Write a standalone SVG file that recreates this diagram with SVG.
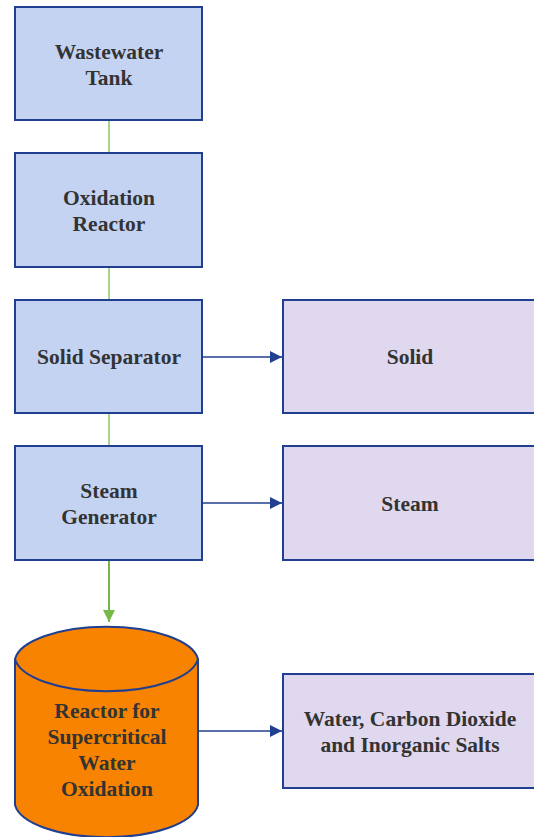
<svg xmlns="http://www.w3.org/2000/svg" width="534" height="837" viewBox="0 0 534 837">
  <style>
    .proc { fill: #c5d3f3; stroke: #203f91; stroke-width: 2; }
    .out { fill: #e0d8ee; stroke: #203f91; stroke-width: 2; }
    .tank { fill: #f88300; stroke: #203f91; stroke-width: 2; }
    .lbl { font-family: "Liberation Serif", "Times New Roman", serif; font-weight: bold; font-size: 21.5px; fill: #333333; text-anchor: middle; }
    .link { stroke: #a9d58a; stroke-width: 2; fill: none; }
    .feed { stroke: #76b948; stroke-width: 2; fill: none; }
    .flow { stroke: #203f91; stroke-width: 1.3; fill: none; }
  </style>
  <defs>
    <marker id="headBlue" viewBox="0 0 10 10" refX="10" refY="5" markerWidth="12" markerHeight="12" markerUnits="userSpaceOnUse" orient="auto">
      <path d="M0,0 L10,5 L0,10 z" fill="#203f91"/>
    </marker>
    <marker id="headGreen" viewBox="0 0 10 10" refX="10" refY="5" markerWidth="12" markerHeight="12" markerUnits="userSpaceOnUse" orient="auto">
      <path d="M0,0 L10,5 L0,10 z" fill="#76b948"/>
    </marker>
  </defs>

  <g id="connectors">
    <line class="link" x1="109" y1="121" x2="109" y2="152"/>
    <line class="link" x1="109" y1="268" x2="109" y2="299"/>
    <line class="link" x1="109" y1="414" x2="109" y2="445"/>
    <line class="feed" x1="109" y1="561" x2="109" y2="622" marker-end="url(#headGreen)"/>
    <line class="flow" x1="202" y1="357" x2="282" y2="357" marker-end="url(#headBlue)"/>
    <line class="flow" x1="202" y1="503" x2="282" y2="503" marker-end="url(#headBlue)"/>
    <line class="flow" x1="198" y1="731" x2="282" y2="731" marker-end="url(#headBlue)"/>
  </g>

  <g id="wastewater-tank">
    <rect class="proc" x="15" y="7" width="187" height="113"/>
    <text class="lbl" x="109" y="59">Wastewater</text>
    <text class="lbl" x="109" y="85">Tank</text>
  </g>

  <g id="oxidation-reactor">
    <rect class="proc" x="15" y="153" width="187" height="114"/>
    <text class="lbl" x="109" y="205">Oxidation</text>
    <text class="lbl" x="109" y="231">Reactor</text>
  </g>

  <g id="solid-separator">
    <rect class="proc" x="15" y="300" width="187" height="113"/>
    <text class="lbl" x="109" y="364">Solid Separator</text>
  </g>

  <g id="steam-generator">
    <rect class="proc" x="15" y="446" width="187" height="114"/>
    <text class="lbl" x="109" y="498">Steam</text>
    <text class="lbl" x="109" y="524">Generator</text>
  </g>

  <g id="solid">
    <rect class="out" x="283" y="300" width="260" height="113"/>
    <text class="lbl" x="410" y="364">Solid</text>
  </g>

  <g id="steam">
    <rect class="out" x="283" y="446" width="260" height="114"/>
    <text class="lbl" x="410" y="511">Steam</text>
  </g>

  <g id="scwo-reactor">
    <path class="tank" d="M15,659 A92,36 0 0 1 198,659 L198,805 A92,36 0 0 1 15,805 Z"/>
    <path class="tank" d="M15,659 A92,36 0 0 0 198,659" fill="none"/>
    <text class="lbl" x="107" y="718">Reactor for</text>
    <text class="lbl" x="107" y="744">Supercritical</text>
    <text class="lbl" x="107" y="770">Water</text>
    <text class="lbl" x="107" y="796">Oxidation</text>
  </g>

  <g id="products">
    <rect class="out" x="283" y="674" width="260" height="114"/>
    <text class="lbl" x="410" y="726">Water, Carbon Dioxide</text>
    <text class="lbl" x="410" y="752">and Inorganic Salts</text>
  </g>
</svg>
